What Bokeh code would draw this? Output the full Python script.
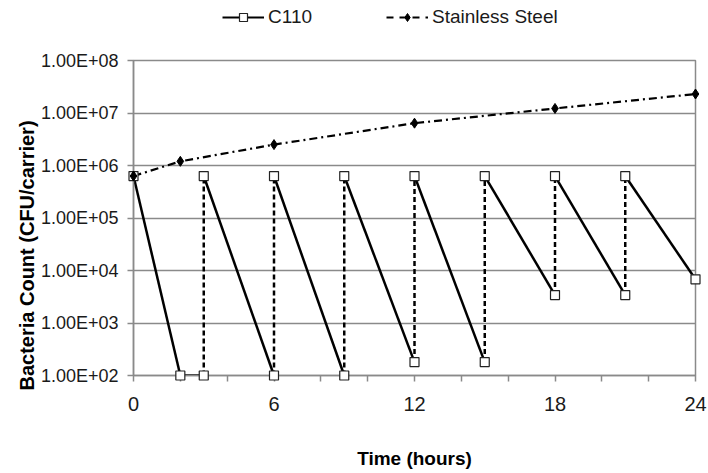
from bokeh.plotting import figure
from bokeh.layouts import column
from bokeh.models import (FixedTicker, Legend, LegendItem, Range1d, Title)
from bokeh.embed import file_html
from bokeh.resources import INLINE

# ---- data ----
c110_hours = [0, 2, 3, 3, 6, 6, 9, 9, 12, 12, 15, 15, 18, 18, 21, 21, 24]
c110_cfu = [6.3e5, 1e2, 1e2, 6.3e5, 1e2, 6.3e5, 1e2, 6.3e5, 1.8e2,
            6.3e5, 1.8e2, 6.3e5, 3.4e3, 6.3e5, 3.4e3, 6.3e5, 6.8e3]
ss_hours = [0, 2, 6, 12, 18, 24]
ss_cfu = [6.3e5, 1.2e6, 2.5e6, 6.4e6, 1.22e7, 2.3e7]

series_names = ["C110", "Stainless Steel"]
x_major_ticks = [0, 6, 12, 18, 24]
x_minor_ticks = [2, 4, 8, 10, 14, 16, 20, 22]
y_ticks = [1e2, 1e3, 1e4, 1e5, 1e6, 1e7, 1e8]
y_tick_labels = ["1.00E+02", "1.00E+03", "1.00E+04", "1.00E+05",
                 "1.00E+06", "1.00E+07", "1.00E+08"]

FONT = "Liberation Sans"
GRID = "#8a8a8a"
TXT = "#1a1a1a"

C110_LINE = dict(line_color="black", line_width=2.5)
C110_MARK = dict(marker="square", size=9, fill_color="white",
                 line_color="#222222", line_width=1.2)
SS_LINE = dict(line_color="black", line_width=2.2, line_dash="8 4 2 4")
SS_MARK = dict(marker="diamond", size=10, fill_color="black", line_color="black")

# ---------------- main chart ----------------
p = figure(width=708, height=429, y_axis_type="log",
           x_range=Range1d(0, 24), y_range=Range1d(1e2, 1e8),
           output_backend="svg", toolbar_location=None,
           min_border_left=133, min_border_right=13,
           min_border_top=16, min_border_bottom=98)
p.background_fill_color = "white"
p.border_fill_color = "white"
p.outline_line_color = GRID
p.outline_line_width = 1.5

# split C110 path into solid (decay) and dashed (re-inoculation) pieces
solid_xs, solid_ys, dash_xs, dash_ys = [], [], [], []
for i in range(len(c110_hours) - 1):
    xs = [c110_hours[i], c110_hours[i + 1]]
    ys = [c110_cfu[i], c110_cfu[i + 1]]
    if xs[0] == xs[1]:
        dash_xs.append(xs); dash_ys.append(ys)
    else:
        solid_xs.append(xs); solid_ys.append(ys)

p.multi_line(dash_xs, dash_ys, line_color="black", line_width=2.5, line_dash="5 3")
p.multi_line(solid_xs, solid_ys, **C110_LINE)
p.scatter(c110_hours, c110_cfu, level="overlay", **C110_MARK)
p.line(ss_hours, ss_cfu, **SS_LINE)
p.scatter(ss_hours, ss_cfu, level="overlay", **SS_MARK)

# grids
p.xgrid.visible = False
p.ygrid.ticker = FixedTicker(ticks=y_ticks)
p.ygrid.grid_line_color = GRID
p.ygrid.grid_line_width = 1.5

# x axis
xa = p.xaxis[0]
xa.ticker = FixedTicker(ticks=x_major_ticks, minor_ticks=x_minor_ticks)
xa.axis_line_color = GRID
xa.axis_line_width = 1.5
xa.major_tick_line_color = GRID
xa.minor_tick_line_color = GRID
xa.major_tick_line_width = 1.5
xa.minor_tick_line_width = 1.5
xa.major_tick_in = 0
xa.major_tick_out = 6
xa.minor_tick_in = 0
xa.minor_tick_out = 6
xa.major_label_text_font = FONT
xa.major_label_text_font_size = "20px"
xa.major_label_text_color = TXT
xa.major_label_standoff = 15
xa.axis_label = "Time (hours)"
xa.axis_label_text_font = FONT
xa.axis_label_text_font_size = "19px"
xa.axis_label_text_font_style = "bold"
xa.axis_label_text_color = "black"
xa.axis_label_standoff = 34

# y axis
ya = p.yaxis[0]
ya.ticker = FixedTicker(ticks=y_ticks)
ya.major_label_overrides = {t: l for t, l in zip(y_ticks, y_tick_labels)}
ya.axis_line_color = GRID
ya.axis_line_width = 1.5
ya.major_tick_line_color = GRID
ya.major_tick_line_width = 1.5
ya.major_tick_in = 0
ya.major_tick_out = 6
ya.minor_tick_line_color = None
ya.major_label_text_font = FONT
ya.major_label_text_font_size = "18px"
ya.major_label_text_color = TXT
ya.major_label_standoff = 9

# y-axis title, shifted towards the bottom as in the reference
p.add_layout(Title(text="Bacteria Count (CFU/carrier)", align="left", offset=-15,
                   standoff=0, text_font=FONT, text_font_size="20px",
                   text_font_style="bold", text_color="black"), "left")

# ---------------- legend strip on top ----------------
lg = figure(width=708, height=44, x_range=Range1d(0, 1), y_range=Range1d(0, 1),
            output_backend="svg", toolbar_location=None,
            min_border_left=0, min_border_right=0, min_border_top=0,
            min_border_bottom=0)
lg.axis.visible = False
lg.grid.visible = False
lg.outline_line_color = None
lg.border_fill_color = "white"
lg.background_fill_color = "white"
# the series themselves lie outside this strip's ranges; only their legend glyphs show
lg_c_line = lg.line(c110_hours, c110_cfu, line_color="black", line_width=2)
lg_c_mark = lg.scatter(c110_hours, c110_cfu, **C110_MARK)
lg_s_line = lg.line(ss_hours, ss_cfu, line_color="black", line_width=2.2, line_dash="7 6")
lg_s_mark = lg.scatter(ss_hours, ss_cfu, **SS_MARK)

legend = Legend(items=[LegendItem(label=series_names[0], renderers=[lg_c_line, lg_c_mark]),
                       LegendItem(label=series_names[1], renderers=[lg_s_line, lg_s_mark])],
                location=(89, 16), orientation="horizontal",
                padding=0, margin=0, spacing=74, label_standoff=4,
                glyph_width=42, glyph_height=20, label_height=20,
                border_line_color=None, background_fill_alpha=0,
                label_text_font=FONT, label_text_font_size="19px",
                label_text_color=TXT)
lg.add_layout(legend)

open("out.html", "w").write(file_html(column(lg, p, spacing=0), INLINE))
